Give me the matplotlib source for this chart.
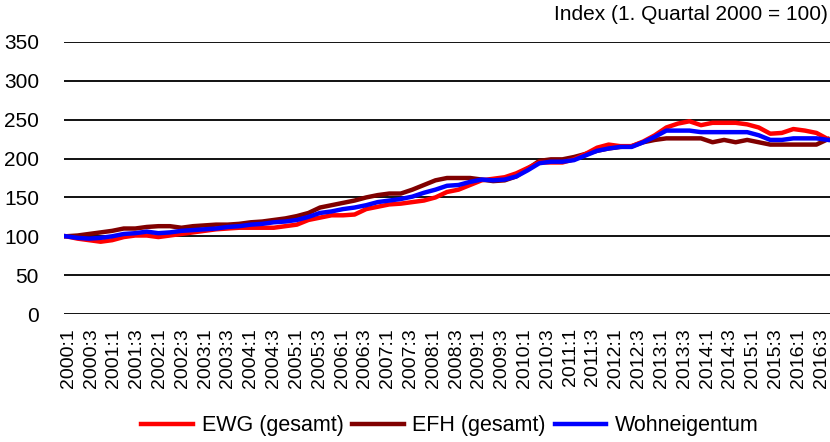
import matplotlib
matplotlib.use("Agg")
import matplotlib.pyplot as plt
import numpy as np

plt.rcParams['font.family'] = ['Liberation Sans', 'DejaVu Sans']

years = list(range(2000, 2017))
quarters = [f"{y}:{q}" for y in years for q in range(1, 5)][:67]
tick_labels = quarters[::2]

ewg = [100, 97, 95, 93, 95, 99, 101, 101, 99, 101, 103, 105, 107, 109, 110, 111,
       111, 111, 111, 113, 115, 121, 124, 127, 127, 128, 135, 138, 141, 142, 144, 146,
       150, 157, 160, 166, 172, 174, 176, 181, 188, 195, 195, 195, 199, 206, 214, 218,
       216, 216, 222, 230, 240, 245, 248, 243, 246, 246, 246, 244, 240, 232, 233, 238,
       236, 233, 225]
efh = [100, 101, 103, 105, 107, 110, 110, 112, 113, 113, 111, 113, 114, 115, 115, 116,
       118, 119, 121, 123, 126, 130, 137, 140, 143, 146, 150, 153, 155, 155, 160, 166,
       172, 175, 175, 175, 173, 171, 172, 177, 187, 197, 199, 199, 202, 206, 210, 213,
       215, 216, 221, 224, 226, 226, 226, 226, 221, 224, 221, 224, 221, 218, 218, 218,
       218, 218, 225]
wohn = [100, 98, 97, 98, 100, 103, 104, 106, 104, 105, 107, 108, 109, 110, 112, 113,
        115, 116, 118, 119, 121, 125, 130, 132, 135, 137, 140, 144, 146, 148, 151, 156,
        160, 165, 166, 170, 173, 172, 173, 177, 185, 194, 196, 196, 198, 204, 210, 213,
        215, 215, 221, 228, 236, 236, 236, 234, 234, 234, 234, 234, 230, 224, 224, 226,
        226, 226, 224]

series_names = ["EWG (gesamt)", "EFH (gesamt)", "Wohneigentum"]
colors = ["#FF0000", "#800000", "#0000FF"]

fig = plt.figure(figsize=(8.3, 4.42), dpi=100)
ax = fig.add_axes([64/830, 128/442, 766/830, 272/442])

x = list(range(len(quarters)))
l1, = ax.plot(x, ewg, color=colors[0], lw=3.2, zorder=4, label=series_names[0])
l2, = ax.plot(x, efh, color=colors[1], lw=3.2, zorder=3, label=series_names[1])
l3, = ax.plot(x, wohn, color=colors[2], lw=3.2, zorder=5, label=series_names[2])

ax.set_xlim(-0.173, 66.173)
ax.set_ylim(0, 350)
ax.set_yticks(range(0, 351, 50))
ax.set_xticks(np.linspace(0.2, 65.4, len(tick_labels)))
ax.set_xticklabels(tick_labels, rotation=90, fontsize=14)
ax.tick_params(axis='y', labelsize=15, length=0, pad=18)
ax.tick_params(axis='x', length=0, pad=10)
for s in ax.spines.values():
    s.set_visible(False)
ax.grid(axis='y', color='#111111', lw=1.4, zorder=1)
ax.set_axisbelow(True)

fig.text(828/830, 1 - 20/442, "Index (1. Quartal 2000 = 100)", ha='right', va='baseline', fontsize=15)
fig.text(112/830, 1 + 12/442, "g", ha='center', va='baseline', fontsize=20, fontweight='bold')

fig.legend(handles=[l1, l2, l3], loc='center', bbox_to_anchor=(450/830, 1 - 426/442),
           ncol=3, frameon=False, fontsize=15.5, handlelength=2.4, handletextpad=0.4,
           columnspacing=0.4, borderpad=0)

fig.savefig("out.png", dpi=100)
